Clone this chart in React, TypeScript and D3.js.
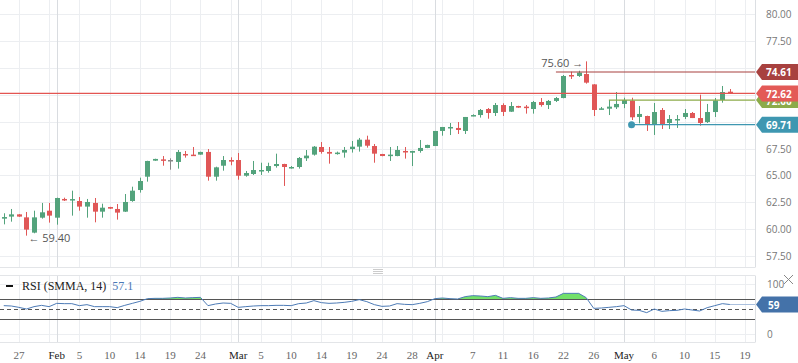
import React from "react";
import * as d3 from "d3";

// trading days (Sun-Fri, Good Friday missing), 2019
const dates = [
  "01-24","01-25","01-27","01-28","01-29","01-30","01-31",
  "02-01","02-03","02-04","02-05","02-06","02-07","02-08","02-10","02-11","02-12","02-13","02-14","02-15",
  "02-17","02-18","02-19","02-20","02-21","02-22","02-24","02-25","02-26","02-27","02-28",
  "03-01","03-03","03-04","03-05","03-06","03-07","03-08","03-10","03-11","03-12","03-13","03-14","03-15",
  "03-17","03-18","03-19","03-20","03-21","03-22","03-24","03-25","03-26","03-27","03-28","03-29","03-31",
  "04-01","04-02","04-03","04-04","04-05","04-07","04-08","04-09","04-10","04-11","04-12","04-14","04-15",
  "04-16","04-17","04-18","04-21","04-22","04-23","04-24","04-25","04-26","04-28","04-29","04-30",
  "05-01","05-02","05-03","05-05","05-06","05-07","05-08","05-09","05-10","05-12","05-13","05-14","05-15",
  "05-16","05-17",
];
const futureDates = ["05-18", "05-19", "05-20"];
const monthNames = ["Jan", "Feb", "Mar", "Apr", "May", "Jun"];

const open = [
  60.98,61.17,61.38,61.10,59.68,61.07,61.72,61.07,62.81,62.75,
  62.62,62.10,62.44,61.63,62.06,61.88,61.63,62.62,63.64,64.88,
  66.37,66.49,66.43,66.25,66.99,66.93,66.93,67.18,64.88,65.90,
  66.43,66.43,64.97,65.13,65.44,65.41,65.87,66.06,65.69,65.78,
  66.59,66.93,67.64,67.18,67.02,67.12,67.45,67.67,68.32,67.73,
  66.99,66.80,66.80,67.27,67.11,67.27,67.55,67.73,69.13,69.41,
  69.41,69.13,70.52,70.61,71.17,70.80,71.54,70.92,71.45,71.39,
  71.17,71.82,71.54,71.92,72.19,74.33,74.24,74.42,73.46,71.14,
  71.20,71.33,71.64,71.95,70.43,70.52,69.69,71.08,69.87,70.22,
  70.43,70.80,70.33,69.96,70.89,72.01,72.78,
];
const high = [
  61.48,61.88,61.40,61.60,61.72,62.44,62.44,62.93,62.93,63.58,
  62.99,62.81,62.90,62.37,62.08,62.34,63.27,63.95,64.79,66.36,
  66.55,66.80,66.59,67.36,67.27,67.64,67.20,67.45,65.81,66.80,
  66.68,67.08,65.41,66.34,66.18,66.18,67.02,66.08,65.87,66.71,
  67.36,67.73,68.10,67.64,67.21,67.64,68.20,68.48,68.69,67.92,
  67.00,67.64,67.73,67.64,67.28,68.29,67.85,69.13,69.50,69.87,
  69.96,70.43,70.68,71.17,71.26,71.73,71.70,71.82,71.47,71.54,
  71.92,72.19,72.01,72.29,74.33,74.64,74.73,75.60,73.48,71.36,
  72.01,72.75,72.22,72.22,71.45,70.55,71.73,71.26,70.61,70.61,
  71.17,70.89,72.50,71.64,72.19,73.31,73.03,
];
const low = [
  60.45,60.70,61.15,59.40,59.62,60.98,60.61,60.42,62.62,61.26,
  61.72,61.07,60.64,61.07,61.89,60.89,61.60,62.55,63.40,64.42,
  66.35,65.90,65.53,65.63,66.65,66.86,66.92,64.51,64.51,65.44,
  65.94,64.60,64.88,65.04,65.04,65.25,65.72,64.02,65.63,65.63,
  66.34,66.84,67.02,66.09,66.93,66.65,67.12,67.21,67.58,66.18,
  66.78,66.34,66.78,66.56,65.87,67.11,67.53,67.73,68.69,68.75,
  68.85,68.85,70.50,70.37,70.27,70.52,70.52,70.90,71.28,70.74,
  70.74,71.39,71.17,71.82,72.17,73.96,74.15,73.53,70.52,71.13,
  70.61,71.17,71.25,70.15,69.84,69.13,68.76,69.31,69.31,69.41,
  70.24,70.33,69.62,69.87,70.43,71.76,72.57,
];
const close = [
  61.13,61.38,61.17,59.96,61.10,61.57,61.26,62.90,62.71,62.80,
  62.10,62.53,61.63,62.00,61.91,61.54,62.53,63.58,64.48,66.34,
  66.53,66.43,66.43,67.18,66.93,66.86,67.18,64.88,65.75,66.43,
  66.28,64.97,65.22,65.50,65.50,65.87,66.06,65.78,65.78,66.62,
  66.84,67.67,67.18,67.02,67.12,67.36,67.67,68.32,67.76,67.02,
  66.80,66.93,67.36,67.18,67.27,67.55,67.83,69.13,69.50,69.50,
  69.22,70.43,70.61,71.08,70.80,71.54,70.90,71.45,71.30,71.33,
  71.82,71.54,71.92,72.19,74.24,74.24,74.55,73.62,71.08,71.23,
  71.39,71.64,72.00,70.40,70.71,69.69,70.89,69.78,70.24,70.24,
  70.80,70.33,69.87,70.89,71.95,72.75,72.62,
];
const rsi = [
  56.7,56,53.3,50,54.7,57.3,54.7,61.3,60.7,60.7,
  56.7,58.7,54.7,54.7,54.7,52.7,57.3,61.3,65.3,70.7,
  71.3,71.3,72,73.3,72,72.7,73.3,56.7,60,62,
  61.3,53.3,54.7,56,56.7,56.7,57.3,57.3,56.7,60.7,
  62,66.7,62.7,61.3,62,63.3,65.3,68.7,64.7,58.7,
  55.3,56,60.7,59.3,58.7,61.3,64.7,70.7,72,70.7,
  70,74.7,76.7,76,74.7,77.3,71.3,72.7,71.3,71.3,
  72.7,71.3,72,74,81.3,81.3,81.3,72.7,51.3,52,
  53.3,54.7,56.7,48,47.3,42.7,50,45.3,46.7,47.3,
  50,48,46,52.7,56.7,60.7,59,
];

const priceTicks = [57.5, 60, 62.5, 65, 67.5, 70, 72.5, 75, 77.5, 80];
const rsiTicks = [0, 100];
const rsiBands = [30, 50, 70];
const lastPrice = 72.62;
const rsiLegend = "57.1";
const rsiLast = 59;
// horizontal levels: value, and the day they start
const levelValues = [74.61, 72.0, 69.71];
const levelStart = ["04-21", "04-29", "05-02"];

const W = 798;
const H = 363;
const right = 755;
const green = "#53a37c";
const red = "#e05757";
const serif = "'Liberation Serif', 'DejaVu Serif', serif";
const sans = "'Open Sans', 'Noto Sans', sans-serif";

export default function App() {
  const x = d3.scaleLinear().domain([0, 99]).range([3.75, 3.75 + 99 * 7.564]);
  const y = d3.scaleLinear().domain([57.5, 80]).range([256.1, 14]);
  const ry = d3.scaleLinear().domain([0, 100]).range([334, 284]);
  const px = (i: number) => Math.round(x(i));

  const allDates = dates.concat(futureDates);
  const monthStarts = allDates
    .map((d, i) => i)
    .filter((i) => i > 0 && allDates[i].slice(0, 2) !== allDates[i - 1].slice(0, 2));
  const gridIdx = d3.range(2, 99, 4);

  const rsiLine = d3
    .line<number>()
    .x((d, i) => x(i))
    .y((d) => ry(d));
  const rsiArea = d3
    .area<number>()
    .x((d, i) => x(i))
    .y0(ry(70))
    .y1((d) => ry(d));

  const maxI = d3.maxIndex(high);
  const minI = d3.minIndex(low);
  const last = dates.length - 1;

  const tag = (yc: number) => `M756,${yc} L762,${yc - 8} H798 V${yc + 8} H762 Z`;
  const levelColors = ["#a8413f", "#8cab4a", "#3e97b1"];
  const tagYs = levelValues.concat([lastPrice]).map((v) => y(v));
  // tick labels hidden under a price tag are not drawn
  const visibleTicks = priceTicks.filter((t) => tagYs.every((ty) => Math.abs(ty - y(t)) > 9));

  return (
    <svg
      width={W}
      height={H}
      style={{ position: "absolute", left: 0, top: 0, background: "#fff" }}
    >
      {/* horizontal grid, price */}
      {priceTicks.map((t) => (
        <line key={t} x1={0} x2={right} y1={Math.round(y(t)) + 0.5} y2={Math.round(y(t)) + 0.5} stroke="#eceef1" />
      ))}
      {/* rsi grid */}
      {rsiTicks.map((t) => (
        <line key={t} x1={0} x2={right} y1={ry(t) + 0.5} y2={ry(t) + 0.5} stroke="#eceef1" />
      ))}
      {/* vertical grid */}
      {gridIdx.map((i) => (
        <g key={i} stroke="#eceef1">
          <line x1={px(i) + 0.5} x2={px(i) + 0.5} y1={0} y2={267} />
          <line x1={px(i) + 0.5} x2={px(i) + 0.5} y1={276} y2={342} />
        </g>
      ))}
      {monthStarts.map((i) => (
        <g key={i} stroke="#d9dce0">
          <line x1={px(i) + 0.5} x2={px(i) + 0.5} y1={0} y2={267} />
          <line x1={px(i) + 0.5} x2={px(i) + 0.5} y1={276} y2={342} />
        </g>
      ))}

      {/* panel frames */}
      <line x1={0} x2={right} y1={267.5} y2={267.5} stroke="#e3e5e8" />
      <line x1={0} x2={right} y1={275.5} y2={275.5} stroke="#e3e5e8" />
      <line x1={0} x2={right} y1={342.5} y2={342.5} stroke="#e3e5e8" />
      <line x1={right + 0.5} x2={right + 0.5} y1={0} y2={267.5} stroke="#dcdfe3" />
      <line x1={right + 0.5} x2={right + 0.5} y1={275.5} y2={342.5} stroke="#dcdfe3" />

      {/* candles */}
      {dates.map((d, i) => {
        const o = open[i];
        const c = close[i];
        const col = c > o ? green : c < o ? red : "#888";
        const top = y(Math.max(o, c));
        const h = Math.max(1.5, Math.abs(y(o) - y(c)));
        return (
          <g key={d}>
            <line x1={px(i) + 0.5} x2={px(i) + 0.5} y1={y(high[i])} y2={y(low[i])} stroke={col} />
            <rect x={px(i) - 2} y={top} width={5} height={h} fill={col} />
          </g>
        );
      })}

      {/* levels */}
      {levelValues.map((v, j) => {
        const i0 = dates.indexOf(levelStart[j]);
        return (
          <g key={v}>
            <line x1={x(i0)} x2={right} y1={y(v)} y2={y(v)} stroke={levelColors[j]} strokeWidth={1.2} />
            {j === 2 && <circle cx={x(i0)} cy={y(v)} r={3.5} fill={levelColors[j]} />}
          </g>
        );
      })}
      <line x1={0} x2={right} y1={y(lastPrice)} y2={y(lastPrice)} stroke="#e35552" strokeWidth={1.2} />

      {/* high / low marks */}
      <text x={x(maxI) - 3} y={y(high[maxI]) + 1} fontSize={11} fontFamily={sans} fill="#555" textAnchor="end" dominantBaseline="central">
        75.60 →
      </text>
      <text x={x(minI) + 2} y={y(low[minI]) + 1.5} fontSize={11} fontFamily={sans} fill="#555" dominantBaseline="central">
        ← 59.40
      </text>

      {/* price axis */}
      {visibleTicks.map((t) => (
        <text key={t} x={766} y={y(t)} fontSize={10} fontFamily={sans} fill="#777" dominantBaseline="central">
          {t.toFixed(2)}
        </text>
      ))}
      <defs>
        <clipPath id="olive">
          <rect x={756} y={y(lastPrice) + 8} width={42} height={20} />
        </clipPath>
        <clipPath id="ob">
          <rect x={0} y={276} width={right} height={ry(70) - 276} />
        </clipPath>
      </defs>
      {[1, 0, 2].map((j) => (
        <g key={j}>
          <path d={tag(y(levelValues[j]))} fill={levelColors[j]} />
          <text
            x={766}
            y={y(levelValues[j]) + 0.5}
            fontSize={10}
            fontWeight="bold"
            fontFamily={sans}
            fill="#fff"
            dominantBaseline="central"
            clipPath={j === 1 ? "url(#olive)" : undefined}
          >
            {levelValues[j].toFixed(2)}
          </text>
          {j === 0 && (
            <g>
              <path d={tag(y(lastPrice))} fill="#e35a57" />
              <text x={766} y={y(lastPrice) + 0.5} fontSize={10} fontWeight="bold" fontFamily={sans} fill="#fff" dominantBaseline="central">
                {lastPrice.toFixed(2)}
              </text>
            </g>
          )}
        </g>
      ))}

      {/* RSI panel */}
      <path d={rsiArea(rsi) || ""} fill="#72e06a" clipPath="url(#ob)" />
      {rsiBands.map((b) => (
        <line
          key={b}
          x1={0}
          x2={right}
          y1={ry(b) + 0.5}
          y2={ry(b) + 0.5}
          stroke="#555"
          strokeDasharray={b === 50 ? "4,3" : undefined}
        />
      ))}
      <path d={rsiLine(rsi) || ""} fill="none" stroke="#4d7bb6" strokeWidth={1} />
      <line x1={x(last)} x2={right} y1={ry(rsiLast)} y2={ry(rsiLast)} stroke="#aac0de" />

      <line x1={6} x2={13} y1={286} y2={286} stroke="#111" strokeWidth={2} />
      <text x={22} y={290} fontSize={12} fontFamily={serif} fill="#222">
        RSI (SMMA, 14)
        <tspan dx={6} fill="#4a78b6">{rsiLegend}</tspan>
      </text>

      {rsiTicks.map((t) => (
        <text key={t} x={767} y={ry(t)} fontSize={10} fontFamily={sans} fill="#777" dominantBaseline="central">
          {t}
        </text>
      ))}
      <path d={tag(ry(rsiLast))} fill="#4472a9" />
      <text x={768} y={ry(rsiLast) + 0.5} fontSize={10} fontWeight="bold" fontFamily={sans} fill="#fff" dominantBaseline="central">
        {rsiLast}
      </text>

      {/* grip and close icons */}
      <g stroke="#ccc">
        <line x1={373} x2={383} y1={269.5} y2={269.5} />
        <line x1={373} x2={383} y1={271.5} y2={271.5} />
        <line x1={373} x2={383} y1={273.5} y2={273.5} />
      </g>
      <g stroke="#888" strokeWidth={1}>
        <line x1={784} x2={793} y1={275} y2={284} />
        <line x1={793} x2={784} y1={275} y2={284} />
      </g>

      {/* date axis */}
      {monthStarts
        .filter((i) => i < 99)
        .map((i) => (
          <text key={"m" + i} x={x(i)} y={355} fontSize={11} fontFamily={serif} fill="#222" textAnchor="middle" dominantBaseline="central">
            {monthNames[+allDates[i].slice(0, 2) - 1]}
          </text>
        ))}
      {gridIdx
        .filter((i) => monthStarts.every((m) => Math.abs(m - i) > 2))
        .map((i) => (
          <text key={"d" + i} x={x(i)} y={355} fontSize={11} fontFamily={serif} fill="#666" textAnchor="middle" dominantBaseline="central">
            {+allDates[i].slice(3)}
          </text>
        ))}
    </svg>
  );
}
